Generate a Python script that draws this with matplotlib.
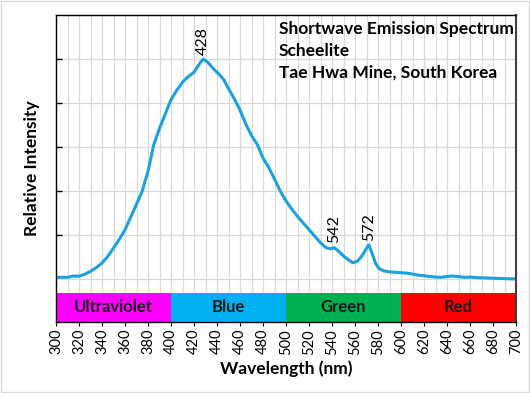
import numpy as np
import matplotlib
matplotlib.use("Agg")
import matplotlib.pyplot as plt
from matplotlib.patches import Rectangle

plt.rcParams['font.family'] = ['Lato', 'DejaVu Sans']

# spectrum
wavelength = [300, 305, 310, 315, 320, 325, 330, 335, 340, 345, 350, 355, 360, 365,
              370, 375, 380, 385, 390, 395, 400, 405, 410, 415, 420, 425, 428, 432,
              437, 442, 446, 450, 455, 460, 465, 470, 475, 480, 485, 490, 495, 500,
              505, 510, 515, 520, 525, 530, 535, 539, 542, 546, 550, 555, 558, 562,
              566, 570, 572, 575, 578, 581, 585, 590, 595, 600, 605, 610, 615, 620,
              625, 630, 635, 640, 645, 650, 655, 660, 665, 670, 675, 680, 685, 690,
              695, 700]
intensity = [0.008, 0.008, 0.008, 0.014, 0.013, 0.022, 0.035, 0.052, 0.073, 0.103,
             0.141, 0.180, 0.224, 0.282, 0.340, 0.400, 0.490, 0.610, 0.685, 0.750,
             0.815, 0.858, 0.895, 0.920, 0.940, 0.980, 1.000, 0.985, 0.955, 0.930,
             0.905, 0.865, 0.820, 0.768, 0.705, 0.652, 0.612, 0.550, 0.507, 0.455,
             0.400, 0.355, 0.318, 0.285, 0.255, 0.225, 0.195, 0.165, 0.142, 0.138,
             0.143, 0.125, 0.105, 0.085, 0.075, 0.080, 0.105, 0.140, 0.156, 0.115,
             0.070, 0.048, 0.037, 0.033, 0.031, 0.029, 0.027, 0.023, 0.018, 0.015,
             0.012, 0.009, 0.008, 0.012, 0.014, 0.011, 0.008, 0.009, 0.007, 0.006,
             0.005, 0.004, 0.003, 0.002, 0.001, 0.001]

peaks = [428, 542, 572]

band_names = ['Ultraviolet', 'Blue', 'Green', 'Red']
band_start = [300, 400, 500, 600]
band_end = [400, 500, 600, 700]
band_colors = ['#FF00FF', '#00B0F0', '#00B050', '#FF0000']

title_lines = ['Shortwave Emission Spectrum', 'Scheelite', 'Tae Hwa Mine, South Korea']

fig = plt.figure(figsize=(5.3, 3.93), dpi=100)
ax = fig.add_axes([56 / 530, 1 - 322 / 393, 460 / 530, 307 / 393])

y_lo, y_hi = -0.195, 1.2
band_top = -0.062

ax.plot(wavelength, intensity, color='#1BA1DE', lw=2.2, zorder=3,
        solid_joinstyle='round')

# colour bands under the curve
ax.bar(band_start, band_top - y_lo,
       width=np.array(band_end) - np.array(band_start),
       bottom=y_lo, align='edge', color=band_colors, zorder=4, lw=0)
for name, a, b in zip(band_names, band_start, band_end):
    ax.text((a + b) / 2, (band_top + y_lo) / 2, name, ha='center', va='center',
            fontsize=12, fontweight='bold', color='#1a1a1a', zorder=5)

for p in peaks:
    ax.annotate(str(p), (p, np.interp(p, wavelength, intensity)),
                xytext=(0, 3), textcoords='offset points', rotation=90,
                ha='center', va='bottom', fontsize=11.5, zorder=5)

for i, line in enumerate(title_lines):
    fig.text(279 / 530, 1 - (29 + 22 * i) / 393, line, fontsize=12.5,
             fontweight='bold', va='center', ha='left')

ax.set_xlim(300, 700)
ax.set_ylim(y_lo, y_hi)

# grid: vertical every 10 nm, horizontal every 0.2
for x in np.arange(310, 700, 10):
    ax.plot([x, x], [band_top, y_hi], color='#d9d9d9', lw=0.9, zorder=1)
for y in np.arange(0, 1.2, 0.2):
    ax.plot([300, 700], [y, y], color='#d9d9d9', lw=0.9, zorder=1)

ax.set_xticks(np.arange(300, 701, 20))
ax.set_xticklabels([str(v) for v in range(300, 701, 20)], rotation=90, fontsize=10.5)
ax.set_yticks(np.arange(0.2, 1.01, 0.2))
ax.set_yticklabels([])
ax.tick_params(axis='y', direction='in', length=4, width=1)
ax.tick_params(axis='x', direction='out', length=3, width=0.8, pad=2)

for s in ['left', 'top', 'bottom']:
    ax.spines[s].set_color('black')
    ax.spines[s].set_linewidth(1.0)
ax.spines['right'].set_color('#404040')
ax.spines['right'].set_linewidth(1.5)
for s in ax.spines.values():
    s.set_zorder(6)

ax.set_xlabel('Wavelength (nm)', fontsize=12.5, fontweight='bold')
ax.xaxis.set_label_coords(0.5, -0.125)
ax.set_ylabel('Relative Intensity', fontsize=12.5, fontweight='bold')
ax.yaxis.set_label_coords(-0.035, 0.5)

fig.patches.append(Rectangle((0.002, 0.002), 0.996, 0.996, transform=fig.transFigure,
                             fill=False, edgecolor='#d9d9d9', lw=1))

fig.savefig('out.png', dpi=100)
